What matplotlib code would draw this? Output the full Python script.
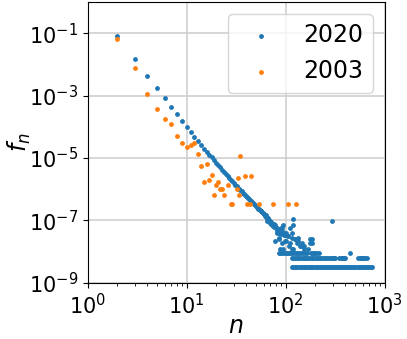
import matplotlib
matplotlib.use("Agg")
import matplotlib.pyplot as plt
import matplotlib.ticker as mticker
import numpy as np

# ======================================================
# Data (log10 of the frequency f_n)
# ======================================================

# 2020: smooth part of the curve, one point per n
n_2020_main = list(range(2, 61))
logf_2020_main = [
    -1.08, -1.83, -2.38, -2.75, -3.06, -3.35, -3.58, -3.80, -3.99,      # 2-10
    -4.17, -4.31, -4.46, -4.58, -4.70, -4.80, -4.89, -4.98, -5.07, -5.15,  # 11-20
    -5.23, -5.30, -5.37, -5.44, -5.51, -5.57, -5.63, -5.69, -5.75, -5.81,  # 21-30
    -5.86, -5.91, -5.95, -5.99, -6.04, -6.07, -6.12, -6.14, -6.19, -6.22,  # 31-40
    -6.24, -6.29, -6.31, -6.35, -6.39, -6.40, -6.45, -6.47, -6.49, -6.53,  # 41-50
    -6.56, -6.57, -6.62, -6.63, -6.66, -6.69, -6.70, -6.74, -6.75, -6.78,  # 51-60
]

# 2020: noisy tail, given as raw counts (one count = smallest frequency)
unit_2020 = 3.1e-9
n_2020_scatter = [61, 62, 63, 64, 65, 65, 66, 67, 68, 69, 70, 71, 72, 73, 74,
                  76, 77, 79, 79, 80, 82, 82, 83, 85, 85, 86, 86, 88, 88, 90,
                  91, 92, 92, 95, 95, 95, 97, 99, 99, 101, 102, 105, 107, 108,
                  112, 112, 116, 116, 116, 120, 120, 120, 124, 125, 130, 134,
                  135, 140, 145, 146, 152, 155, 170, 178, 178, 184, 184, 294]
count_2020_scatter = [50, 45, 42, 48, 40, 30, 36, 38, 33, 30, 26, 29, 24, 23, 21,
                      20, 24, 23, 7, 18, 18, 13, 15, 16, 8, 13, 9, 14, 4, 12,
                      19, 18, 6, 14, 23, 4, 11, 11, 7, 7, 13, 10, 10, 5,
                      18, 6, 13, 9, 4, 35, 23, 4, 8, 8, 6, 7,
                      9, 5, 5, 6, 4, 5, 4, 8, 6, 8, 6, 31]

n_2020_c3 = [85, 88, 92, 96, 100, 104, 108, 112, 117, 122, 127, 132, 138, 144,
             150, 157, 165, 182, 188, 194, 200, 210, 220, 450]
n_2020_c2 = [116, 120, 125, 130, 135, 140, 146, 152, 158, 164, 170, 177, 184,
             191, 198, 206, 214, 222, 230, 239, 248, 258, 268, 280, 290, 300,
             310, 318, 350, 360, 370, 380, 390, 400, 545, 560, 575, 590, 605,
             620, 640, 660]
n_2020_c1 = [116, 120, 124, 128, 132, 137, 142, 147, 152, 157, 163, 169, 175,
             181, 187, 194, 201, 208, 215, 223, 231, 239, 247, 256, 265, 274,
             284, 294, 304, 315, 326, 338, 350, 362, 375, 388, 402, 416, 431,
             446, 462, 478, 495, 510, 535, 553, 572, 592, 613, 635, 657, 680,
             704, 729, 753]

# 2003
n_2003 = [2, 3, 4, 5, 6, 7, 8, 9, 10, 11, 12, 13, 14, 15, 16, 17, 18, 19, 20,
          21, 22, 23, 24, 26, 28, 29, 32, 33, 34, 35, 39, 41, 44, 45, 54, 74,
          107, 127]
logf_2003 = [-1.18, -2.11, -2.94, -3.44, -3.75, -3.91, -4.28, -4.51, -4.63,
             -4.58, -4.53, -4.86, -5.24, -5.78, -5.19, -5.70, -5.54, -6.18,
             -5.88, -5.78, -6.00, -6.00, -6.18, -5.86, -6.48, -6.48, -6.00,
             -5.64, -6.18, -4.93, -5.57, -6.48, -6.48, -5.57, -6.48, -6.48,
             -6.48, -6.48]

# ======================================================
# Build the series
# ======================================================
n20 = (n_2020_main + n_2020_scatter + n_2020_c3 + n_2020_c2 + n_2020_c1)
f20 = list(10 ** np.array(logf_2020_main))
f20 += list(np.array(count_2020_scatter) * unit_2020)
f20 += [3 * unit_2020] * len(n_2020_c3)
f20 += [2 * unit_2020] * len(n_2020_c2)
f20 += [1 * unit_2020] * len(n_2020_c1)

f03 = 10 ** np.array(logf_2003)

# ======================================================
# Plot
# ======================================================
fig = plt.figure(figsize=(4.07, 3.39), dpi=100)
ax = fig.add_axes([87.5 / 407, 1 - 282.8 / 339, 297 / 407, 280.7 / 339])

ax.scatter(n20, f20, s=6, color="C0", label="2020", zorder=3)
ax.scatter(n_2003, f03, s=6, color="C1", label="2003", zorder=3)

ax.set_xscale("log")
ax.set_yscale("log")
ax.set_xlim(1, 1e3)
ax.set_ylim(1e-9, 1)
ax.set_yticks([1e-9, 1e-7, 1e-5, 1e-3, 1e-1])
ax.yaxis.set_minor_locator(mticker.NullLocator())

ax.grid(True, which="major", color="#d0d0d0", linewidth=1.2)
ax.tick_params(labelsize=15)
ax.set_xlabel("$n$", fontsize=17)
ax.set_ylabel("$f_n$", fontsize=17)
ax.xaxis.set_label_coords(0.5, -0.11)
ax.yaxis.set_label_coords(-0.185, 0.5)

ax.legend(loc="upper right", fontsize=17)

fig.savefig("out.png", dpi=100)
